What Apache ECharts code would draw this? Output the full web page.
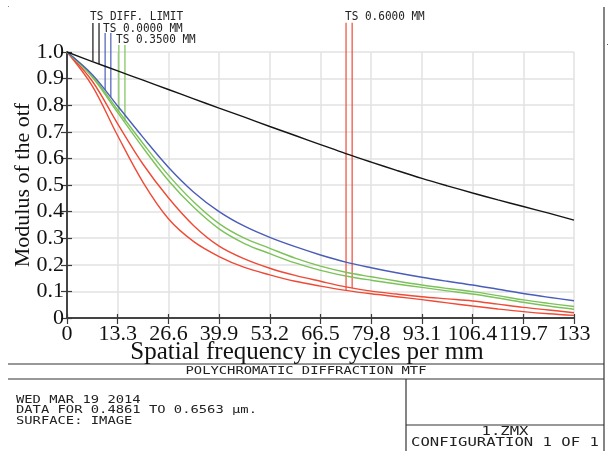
<!DOCTYPE html>
<html>
<head>
<meta charset="utf-8">
<script src="https://cdn.jsdelivr.net/npm/echarts@6/dist/echarts.min.js"></script>
<style>
html,body{margin:0;padding:0;background:#fff;}
#chart{width:611px;height:451px;}
</style>
</head>
<body>
<div id="chart"></div>
<script>
// Spatial frequency samples (cycles per mm)
const freq = [0, 6.65, 13.3, 19.95, 26.6, 33.25, 39.9, 46.55, 53.2, 59.85, 66.5, 73.15, 79.8, 86.45, 93.1, 99.75, 106.4, 113.05, 119.7, 126.35, 133];
// MTF values
const diffLimit = [1, 0.964, 0.929, 0.894, 0.859, 0.824, 0.789, 0.755, 0.72, 0.686, 0.652, 0.618, 0.586, 0.555, 0.525, 0.497, 0.47, 0.444, 0.419, 0.394, 0.368];
const field0 =    [1, 0.915, 0.797, 0.679, 0.567, 0.473, 0.4, 0.345, 0.303, 0.268, 0.237, 0.21, 0.189, 0.17, 0.153, 0.138, 0.124, 0.108, 0.092, 0.078, 0.065];
const field035T = [1, 0.91, 0.782, 0.656, 0.537, 0.436, 0.355, 0.3, 0.262, 0.225, 0.195, 0.172, 0.155, 0.139, 0.124, 0.111, 0.099, 0.084, 0.068, 0.055, 0.043];
const field035S = [1, 0.905, 0.772, 0.64, 0.517, 0.416, 0.335, 0.28, 0.242, 0.207, 0.179, 0.158, 0.142, 0.128, 0.115, 0.102, 0.09, 0.075, 0.059, 0.045, 0.033];
const field06T =  [1, 0.89, 0.73, 0.578, 0.452, 0.347, 0.27, 0.222, 0.187, 0.16, 0.138, 0.117, 0.101, 0.09, 0.08, 0.072, 0.064, 0.052, 0.04, 0.03, 0.02];
const field06S =  [1, 0.872, 0.685, 0.51, 0.373, 0.287, 0.231, 0.19, 0.162, 0.138, 0.12, 0.104, 0.091, 0.08, 0.069, 0.057, 0.045, 0.034, 0.024, 0.016, 0.01];

// Legend marker lines: [frequency, top value, end value on curve]
const markDiff = [[6.8, 1.109, 0.964], [8.4, 1.109, 0.955]];
const mark0 = [[10.0, 1.071, 0.857], [11.5, 1.071, 0.83]];
const mark035 = [[13.6, 1.026, 0.776], [15.2, 1.026, 0.74]];
const mark06 = [[73.2, 1.11, 0.104], [74.8, 1.11, 0.112]];

const xTickLabels = ['0', '13.3', '26.6', '39.9', '53.2', '66.5', '79.8', '93.1', '106.4', '119.7', '133'];
const yTickLabels = ['0', '0.1', '0.2', '0.3', '0.4', '0.5', '0.6', '0.7', '0.8', '0.9', '1.0'];

const legendLabels = ['TS DIFF. LIMIT', 'TS 0.0000 MM', 'TS 0.3500 MM', 'TS 0.6000 MM'];
const footerTitle = 'POLYCHROMATIC DIFFRACTION MTF';
const footerLines = ['WED MAR 19 2014', 'DATA FOR 0.4861 TO 0.6563 \u00b5m.', 'SURFACE: IMAGE'];
const footerFile = '1.ZMX';
const footerConfig = 'CONFIGURATION 1 OF 1';

const BLACK = '#151515', BLUE = '#4a5db8', GREEN = '#7cc25a', RED = '#ef4a36';

function pairs(ys) { return freq.map((f, i) => [f, ys[i]]); }
function curve(name, ys, color) {
  return { name, type: 'line', data: pairs(ys), showSymbol: false, symbol: 'none', smooth: 0.35,
    lineStyle: { color, width: 1.4 }, silent: true, z: 3 };
}
function markers(m, color) {
  return m.map((p, i) => ({ name: 'mk' + color + i, type: 'line', data: [[p[0], p[1]], [p[0], p[2]]],
    showSymbol: false, symbol: 'none', clip: false, lineStyle: { color, width: 1.2 }, silent: true, z: 2 }));
}

const chart = echarts.init(document.getElementById('chart'), null, { renderer: 'canvas' });
const serif = '"Liberation Serif", "Times New Roman", serif';
const mono = '"DejaVu Sans Mono", monospace';
const axLine = { show: true, lineStyle: { color: '#3a3a3a', width: 1.5 } };

function txt(text, x, y, size, sx, align) {
  return { type: 'text', x, y, scaleX: sx, silent: true,
    style: { text, fontFamily: mono, fontSize: size, fill: '#222', textAlign: align || 'left', textVerticalAlign: 'middle' } };
}
function ln(x1, y1, x2, y2) {
  return { type: 'line', silent: true, shape: { x1, y1, x2, y2 }, style: { stroke: '#333', lineWidth: 1.2 } };
}

const option = {
  animation: false,
  backgroundColor: '#fff',
  grid: { left: 67, right: 37, top: 52, bottom: 133 },
  xAxis: [{
    type: 'value', min: 0, max: 133, interval: 13.3, position: 'bottom',
    axisLine: axLine,
    axisTick: { show: true, inside: true, length: 4, lineStyle: { color: '#3a3a3a', width: 1.2 } },
    axisLabel: { show: true, margin: 5, fontFamily: serif, fontSize: 22, color: '#111',
      formatter: v => xTickLabels[Math.round(v / 13.3)] },
    splitLine: { show: true, lineStyle: { color: '#e2e2e2', width: 1.5 } },
    name: 'Spatial frequency in cycles per mm', nameLocation: 'middle', nameGap: 22, nameMoveOverlap: false,
    nameTextStyle: { fontFamily: serif, fontSize: 25, color: '#111', padding: [0, 27, 0, 0] }
  }, {
    type: 'value', min: 0, max: 133, interval: 13.3, position: 'top',
    axisLine: axLine,
    axisTick: { show: true, inside: true, length: 6, lineStyle: { color: '#3a3a3a', width: 1.2 } },
    axisLabel: { show: false }, splitLine: { show: false }
  }],
  yAxis: [{
    type: 'value', min: 0, max: 1, interval: 0.1, position: 'left',
    axisLine: axLine,
    axisTick: { show: true, inside: true, length: 5, lineStyle: { color: '#3a3a3a', width: 1.2 } },
    axisLabel: { show: true, margin: 3, fontFamily: serif, fontSize: 22, color: '#111',
      formatter: v => yTickLabels[Math.round(v * 10)] },
    splitLine: { show: true, lineStyle: { color: '#e2e2e2', width: 1.5 } },
    name: 'Modulus of the otf', nameLocation: 'middle', nameGap: 33, nameMoveOverlap: false,
    nameTextStyle: { fontFamily: serif, fontSize: 22, color: '#111' }
  }, {
    type: 'value', min: 0, max: 1, interval: 0.1, position: 'right',
    axisLine: axLine,
    axisTick: { show: true, inside: true, length: 6, lineStyle: { color: '#3a3a3a', width: 1.2 } },
    axisLabel: { show: false }, splitLine: { show: false }
  }],
  series: [
    curve('TS 0.6000 MM S', field06S, RED),
    curve('TS 0.6000 MM T', field06T, RED),
    curve('TS 0.3500 MM S', field035S, GREEN),
    curve('TS 0.3500 MM T', field035T, GREEN),
    curve('TS 0.0000 MM', field0, BLUE),
    curve('TS DIFF. LIMIT', diffLimit, BLACK),
    ...markers(markDiff, BLACK),
    ...markers(mark0, BLUE),
    ...markers(mark035, GREEN),
    ...markers(mark06, RED)
  ],
  graphic: [
    txt(legendLabels[0], 90, 17, 12, 0.92),
    txt(legendLabels[1], 103, 29, 12, 0.92),
    txt(legendLabels[2], 116, 40, 12, 0.92),
    txt(legendLabels[3], 345, 17, 12, 0.92),
    ln(8, 364, 604, 364),
    ln(8, 379, 604, 379),
    ln(604, 7, 604, 451),
    ln(406, 379, 406, 451),
    ln(406, 425, 604, 425),
    txt(footerTitle, 306, 371.5, 10, 1.38, 'center'),
    txt(footerLines[0], 16, 400.5, 10, 1.38),
    txt(footerLines[1], 16, 410.5, 10, 1.38),
    txt(footerLines[2], 16, 421, 10, 1.38),
    txt(footerFile, 505, 432, 12, 1.3, 'center'),
    txt(footerConfig, 505, 443, 12, 1.3, 'center'),
    { type: 'rect', silent: true, shape: { x: 607, y: 44, width: 1, height: 1 }, style: { fill: '#555' } },
    { type: 'rect', silent: true, shape: { x: 8, y: 6, width: 1, height: 1 }, style: { fill: '#888' } }
  ]
};
chart.setOption(option);
</script>
</body>
</html>
